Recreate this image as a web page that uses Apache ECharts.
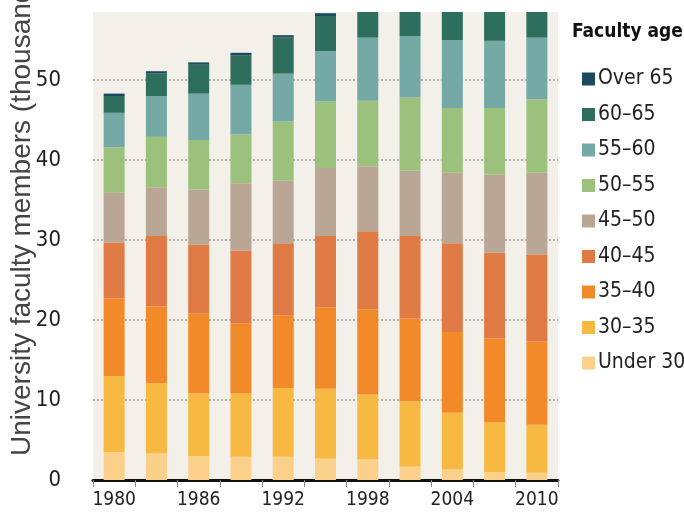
<!DOCTYPE html>
<html>
<head>
<meta charset="utf-8">
<script src="https://cdn.jsdelivr.net/npm/echarts@6/dist/echarts.min.js"></script>
<style>
html,body{margin:0;padding:0;background:#fff;}
#chart{width:684px;height:523px;}
</style>
</head>
<body>
<div id="chart"></div>
<script>
var years = ['1980','1983','1986','1989','1992','1995','1998','2001','2004','2007','2010'];
var under30 = [3.5, 3.3, 3.0, 2.9, 2.9, 2.7, 2.6, 1.7, 1.3, 1.0, 0.9];
var age30_35 = [9.5, 8.8, 7.8, 7.9, 8.6, 8.7, 8.1, 8.1, 7.1, 6.2, 6.0];
var age35_40 = [9.7, 9.6, 10.0, 8.8, 9.1, 10.2, 10.6, 10.4, 10.1, 10.5, 10.4];
var age40_45 = [7.0, 8.8, 8.6, 9.1, 9.0, 8.9, 9.8, 10.3, 11.1, 10.7, 10.9];
var age45_50 = [6.2, 6.1, 6.9, 8.4, 7.8, 8.5, 8.1, 8.2, 8.8, 9.8, 10.2];
var age50_55 = [5.7, 6.3, 6.2, 6.1, 7.4, 8.3, 8.2, 9.1, 8.1, 8.3, 9.2];
var age55_60 = [4.3, 5.1, 5.8, 6.2, 6.0, 6.3, 7.9, 7.7, 8.5, 8.4, 7.7];
var age60_65 = [2.1, 2.8, 3.6, 3.7, 4.5, 4.4, 5.0, 5.5, 6.0, 6.2, 6.3];
var over65 = [0.3, 0.3, 0.3, 0.3, 0.3, 0.35, 1.0, 1.5, 2.0, 2.5, 3.0];

var seriesNames = ['Under 30','30–35','35–40','40–45','45–50','50–55','55–60','60–65','Over 65'];
var seriesData = [under30, age30_35, age35_40, age40_45, age45_50, age50_55, age55_60, age60_65, over65];
var colors = ['#fbd08a','#f7b941','#f28a2a','#e07b45','#b9a695','#9cc17d','#74a9a5','#2d6e5c','#1c4a5e'];
var yTicks = [0, 10, 20, 30, 40, 50];

var condensed = '"Liberation Sans Narrow", "DejaVu Sans Condensed", "Roboto Condensed", sans-serif';

var chart = echarts.init(document.getElementById('chart'), null, {renderer:'canvas'});
var series = seriesNames.map(function(n, i){
  return {
    name: n, type: 'bar', stack: 'total', data: seriesData[i],
    barWidth: 21, itemStyle: {color: colors[i]}, clip: true
  };
});
chart.setOption({
  animation: false,
  backgroundColor: '#ffffff',
  color: colors,
  grid: {left: 93, right: 126, top: 12, bottom: 43, show: true, backgroundColor: '#f2f0e9', borderWidth: 0},
  legend: {
    orient: 'vertical', left: 577, top: 63,
    data: seriesNames.slice().reverse(),
    icon: 'rect', itemWidth: 13, itemHeight: 13, itemGap: 13.5,
    textStyle: {fontFamily: condensed, fontSize: 21, color: '#222', lineHeight: 22, padding: [0,0,0,-2]},
    selectedMode: false
  },
  graphic: [
    {type: 'text', left: 572, top: 23, style: {text: 'Faculty age', font: 'bold 19px ' + condensed, fill: '#111'}},
    {type: 'text', x: 22, y: 456, rotation: Math.PI/2,
     style: {text: 'University faculty members (thousands)', font: '28px "Liberation Sans", Arial, sans-serif', fill: '#444', textAlign: 'left', textVerticalAlign: 'middle'}}
  ],
  xAxis: {
    type: 'category', data: years,
    axisLine: {show: true, lineStyle: {color: '#111', width: 3}},
    axisTick: {show: true, interval: 0, length: 7, lineStyle: {color: '#888', width: 1}},
    axisLabel: {interval: 1, fontFamily: condensed, fontSize: 19, color: '#222', margin: 11},
    splitLine: {show: false}
  },
  yAxis: {
    type: 'value', min: 0, max: 58.5, interval: 10,
    axisLine: {show: false}, axisTick: {show: false},
    axisLabel: {fontFamily: condensed, fontSize: 22, color: '#222', margin: 32,
      formatter: function(v){ return yTicks.indexOf(v) >= 0 ? String(v) : ''; }},
    splitLine: {show: true, showMaxLine: false, lineStyle: {color: '#999', type: [2,2], width: 1.5}}
  },
  series: series
});
</script>
</body>
</html>
